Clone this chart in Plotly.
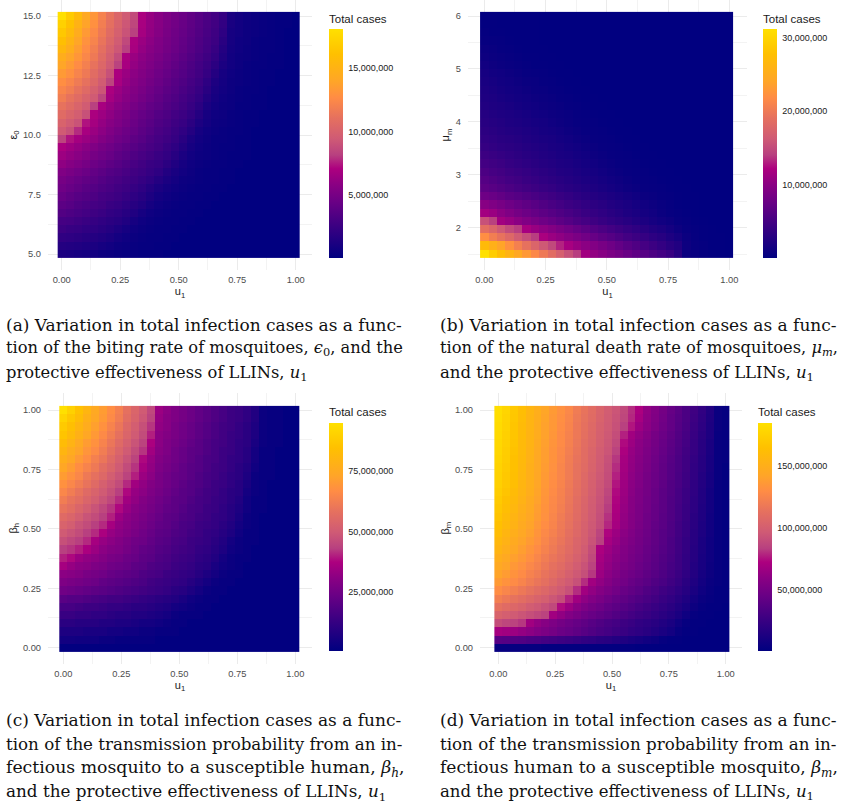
import plotly.graph_objects as go

W, H = 841, 801

# Total cases in millions; rows run top of panel to bottom, columns u1 = 0 .. 1 (30 x 30 cells)
cases_a = [
[18.1,16.8,15.6,14.3,13.2,12.1,11.2,10.3,9.5,8.7,7.0,6.3,5.8,5.3,4.9,4.5,4.1,3.7,3.3,2.9,2.3,1.2,0.9,0.7,0.5,0.4,0.3,0.2,0.2,0.1],
[17.2,16.2,15.0,13.9,12.9,11.9,11.0,10.1,9.3,8.5,6.9,6.2,5.7,5.2,4.8,4.4,4.0,3.6,3.2,2.8,2.2,1.1,0.8,0.6,0.5,0.4,0.3,0.2,0.2,0.1],
[16.6,15.6,14.5,13.4,12.5,11.6,10.7,9.9,9.1,8.2,6.8,6.1,5.6,5.1,4.7,4.3,3.9,3.5,3.1,2.7,2.0,1.0,0.8,0.6,0.5,0.4,0.3,0.2,0.1,0.1],
[16.0,15.1,14.0,13.0,12.2,11.3,10.4,9.6,8.6,7.0,6.4,5.9,5.4,5.0,4.6,4.2,3.8,3.4,3.0,2.6,1.8,1.0,0.7,0.6,0.4,0.3,0.3,0.2,0.1,0.1],
[15.4,14.6,13.6,12.7,11.9,11.0,10.1,9.3,8.2,6.9,6.2,5.7,5.3,4.9,4.5,4.1,3.7,3.3,2.9,2.4,1.6,0.9,0.7,0.5,0.4,0.3,0.3,0.2,0.1,0.1],
[14.6,13.9,13.2,12.4,11.6,10.7,9.8,8.8,7.0,6.4,5.9,5.5,5.1,4.7,4.3,3.9,3.5,3.1,2.7,2.2,1.4,0.8,0.6,0.5,0.4,0.3,0.2,0.2,0.1,0.1],
[14.0,13.4,12.7,12.0,11.2,10.4,9.5,8.3,6.9,6.2,5.7,5.3,4.9,4.5,4.1,3.7,3.3,2.9,2.5,1.9,1.2,0.8,0.6,0.4,0.3,0.3,0.2,0.2,0.1,0.1],
[13.4,12.9,12.2,11.6,10.8,10.0,9.0,7.0,6.4,5.9,5.5,5.1,4.7,4.3,3.9,3.6,3.2,2.8,2.3,1.6,1.0,0.7,0.5,0.4,0.3,0.2,0.2,0.1,0.1,0.1],
[12.8,12.3,11.7,11.1,10.4,9.6,8.4,6.9,6.2,5.7,5.3,4.9,4.5,4.1,3.7,3.4,3.0,2.6,2.0,1.3,0.9,0.6,0.5,0.4,0.3,0.2,0.2,0.1,0.1,0.1],
[12.3,11.8,11.2,10.6,9.9,9.2,7.0,6.4,5.9,5.5,5.1,4.7,4.3,3.9,3.6,3.2,2.8,2.4,1.8,1.1,0.8,0.6,0.4,0.3,0.3,0.2,0.1,0.1,0.1,0.1],
[11.8,11.2,10.7,10.1,9.5,8.4,6.8,6.2,5.7,5.3,4.9,4.5,4.1,3.7,3.4,3.0,2.6,2.2,1.5,1.0,0.7,0.5,0.4,0.3,0.2,0.2,0.1,0.1,0.1,0.1],
[11.2,10.7,10.2,9.6,8.2,6.9,6.3,5.8,5.4,5.0,4.6,4.2,3.9,3.5,3.2,2.8,2.4,1.9,1.2,0.8,0.6,0.5,0.3,0.3,0.2,0.2,0.1,0.1,0.1,0.1],
[10.7,10.2,9.7,9.0,7.0,6.5,6.0,5.5,5.1,4.7,4.3,4.0,3.6,3.3,2.9,2.6,2.2,1.6,1.0,0.7,0.6,0.4,0.3,0.2,0.2,0.1,0.1,0.1,0.1,0.1],
[10.1,9.6,9.1,7.4,6.8,6.2,5.7,5.3,4.9,4.5,4.1,3.8,3.4,3.1,2.7,2.4,1.9,1.3,0.9,0.6,0.5,0.4,0.3,0.2,0.2,0.1,0.1,0.1,0.1,0.1],
[9.5,9.0,7.8,6.9,6.4,5.9,5.4,5.0,4.6,4.3,3.9,3.6,3.2,2.9,2.5,2.1,1.6,1.0,0.7,0.5,0.4,0.3,0.3,0.2,0.1,0.1,0.1,0.1,0.1,0.1],
[8.4,7.4,6.8,6.4,6.0,5.5,5.1,4.7,4.4,4.0,3.7,3.3,3.0,2.7,2.3,1.8,1.2,0.8,0.6,0.4,0.4,0.3,0.2,0.2,0.1,0.1,0.1,0.1,0.1,0.1],
[7.0,6.6,6.2,5.8,5.4,5.0,4.7,4.3,4.0,3.7,3.4,3.1,2.8,2.4,2.0,1.5,1.0,0.7,0.5,0.4,0.3,0.3,0.2,0.2,0.1,0.1,0.1,0.1,0.1,0.1],
[6.5,6.1,5.8,5.4,5.0,4.7,4.4,4.0,3.7,3.4,3.1,2.8,2.5,2.2,1.7,1.2,0.8,0.6,0.5,0.4,0.3,0.2,0.2,0.2,0.1,0.1,0.1,0.1,0.1,0.1],
[6.0,5.6,5.3,5.0,4.6,4.3,4.0,3.7,3.4,3.1,2.8,2.5,2.3,1.9,1.4,1.0,0.7,0.5,0.4,0.3,0.3,0.2,0.2,0.1,0.1,0.1,0.1,0.1,0.1,0.1],
[5.4,5.1,4.8,4.5,4.2,3.9,3.6,3.4,3.1,2.8,2.6,2.3,2.0,1.5,1.1,0.8,0.6,0.4,0.3,0.3,0.2,0.2,0.1,0.1,0.1,0.1,0.1,0.1,0.1,0.1],
[5.0,4.7,4.4,4.1,3.9,3.6,3.3,3.1,2.8,2.6,2.3,2.0,1.6,1.2,0.9,0.6,0.5,0.4,0.3,0.3,0.2,0.2,0.1,0.1,0.1,0.1,0.1,0.1,0.1,0.1],
[4.7,4.4,4.1,3.8,3.6,3.3,3.1,2.8,2.6,2.3,2.0,1.6,1.2,0.9,0.7,0.5,0.4,0.3,0.3,0.2,0.2,0.1,0.1,0.1,0.1,0.1,0.1,0.1,0.1,0.1],
[4.3,4.0,3.7,3.5,3.3,3.0,2.8,2.6,2.3,2.0,1.7,1.3,0.9,0.7,0.5,0.4,0.3,0.3,0.2,0.2,0.1,0.1,0.1,0.1,0.1,0.1,0.1,0.1,0.1,0.1],
[3.9,3.7,3.4,3.2,3.0,2.8,2.5,2.3,2.0,1.7,1.4,1.0,0.7,0.5,0.4,0.3,0.3,0.2,0.2,0.1,0.1,0.1,0.1,0.1,0.1,0.1,0.1,0.1,0.1,0.1],
[3.5,3.3,3.1,2.9,2.7,2.5,2.2,2.0,1.7,1.4,1.0,0.7,0.5,0.4,0.3,0.3,0.2,0.2,0.1,0.1,0.1,0.1,0.1,0.1,0.1,0.1,0.1,0.1,0.1,0.1],
[3.0,2.9,2.7,2.5,2.3,2.1,1.9,1.7,1.4,1.0,0.7,0.5,0.4,0.3,0.3,0.2,0.2,0.1,0.1,0.1,0.1,0.1,0.1,0.1,0.1,0.1,0.1,0.1,0.1,0.1],
[2.6,2.4,2.3,2.1,2.0,1.8,1.6,1.3,1.0,0.7,0.5,0.4,0.3,0.3,0.2,0.2,0.1,0.1,0.1,0.1,0.1,0.1,0.1,0.1,0.1,0.1,0.1,0.1,0.1,0.1],
[2.1,2.0,1.9,1.7,1.6,1.4,1.2,0.9,0.7,0.5,0.4,0.3,0.3,0.2,0.2,0.1,0.1,0.1,0.1,0.1,0.1,0.1,0.1,0.1,0.1,0.1,0.1,0.1,0.1,0.1],
[1.6,1.5,1.4,1.3,1.2,1.0,0.8,0.6,0.5,0.4,0.3,0.3,0.2,0.2,0.1,0.1,0.1,0.1,0.1,0.1,0.1,0.1,0.1,0.1,0.1,0.1,0.1,0.1,0.1,0.1],
[1.2,1.1,1.0,0.9,0.8,0.6,0.5,0.4,0.3,0.3,0.2,0.2,0.2,0.1,0.1,0.1,0.1,0.1,0.1,0.1,0.1,0.1,0.1,0.1,0.1,0.1,0.1,0.1,0.1,0.05],
]

cases_b = [
[0.3,0.3,0.2,0.2,0.2,0.2,0.2,0.1,0.1,0.1,0.1,0.1,0.1,0.1,0.1,0.1,0.1,0.1,0.1,0.1,0.1,0.1,0.1,0.1,0.1,0.1,0.1,0.1,0.1,0.1],
[0.3,0.3,0.2,0.2,0.2,0.2,0.2,0.1,0.1,0.1,0.1,0.1,0.1,0.1,0.1,0.1,0.1,0.1,0.1,0.1,0.1,0.1,0.1,0.1,0.1,0.1,0.1,0.1,0.1,0.1],
[0.4,0.3,0.3,0.2,0.2,0.2,0.2,0.1,0.1,0.1,0.1,0.1,0.1,0.1,0.1,0.1,0.1,0.1,0.1,0.1,0.1,0.1,0.1,0.1,0.1,0.1,0.1,0.1,0.1,0.1],
[0.6,0.5,0.4,0.3,0.2,0.2,0.2,0.1,0.1,0.1,0.1,0.1,0.1,0.1,0.1,0.1,0.1,0.1,0.1,0.1,0.1,0.1,0.1,0.1,0.1,0.1,0.1,0.1,0.1,0.1],
[0.9,0.7,0.5,0.4,0.3,0.2,0.2,0.2,0.1,0.1,0.1,0.1,0.1,0.1,0.1,0.1,0.1,0.1,0.1,0.1,0.1,0.1,0.1,0.1,0.1,0.1,0.1,0.1,0.1,0.1],
[1.1,0.9,0.7,0.6,0.4,0.3,0.3,0.2,0.2,0.1,0.1,0.1,0.1,0.1,0.1,0.1,0.1,0.1,0.1,0.1,0.1,0.1,0.1,0.1,0.1,0.1,0.1,0.1,0.1,0.1],
[1.4,1.1,0.9,0.7,0.6,0.4,0.3,0.3,0.2,0.2,0.1,0.1,0.1,0.1,0.1,0.1,0.1,0.1,0.1,0.1,0.1,0.1,0.1,0.1,0.1,0.1,0.1,0.1,0.1,0.1],
[1.7,1.4,1.2,1.0,0.8,0.6,0.5,0.4,0.3,0.2,0.2,0.1,0.1,0.1,0.1,0.1,0.1,0.1,0.1,0.1,0.1,0.1,0.1,0.1,0.1,0.1,0.1,0.1,0.1,0.1],
[1.9,1.7,1.4,1.2,1.0,0.8,0.7,0.5,0.4,0.3,0.2,0.2,0.1,0.1,0.1,0.1,0.1,0.1,0.1,0.1,0.1,0.1,0.1,0.1,0.1,0.1,0.1,0.1,0.1,0.1],
[2.1,1.9,1.6,1.4,1.2,1.0,0.8,0.7,0.5,0.4,0.3,0.2,0.2,0.1,0.1,0.1,0.1,0.1,0.1,0.1,0.1,0.1,0.1,0.1,0.1,0.1,0.1,0.1,0.1,0.1],
[2.3,2.1,1.8,1.6,1.4,1.2,1.0,0.9,0.7,0.5,0.4,0.3,0.2,0.2,0.1,0.1,0.1,0.1,0.1,0.1,0.1,0.1,0.1,0.1,0.1,0.1,0.1,0.1,0.1,0.1],
[2.5,2.3,2.1,1.9,1.6,1.4,1.2,1.0,0.9,0.7,0.5,0.4,0.3,0.2,0.2,0.1,0.1,0.1,0.1,0.1,0.1,0.1,0.1,0.1,0.1,0.1,0.1,0.1,0.1,0.1],
[2.8,2.5,2.3,2.1,1.9,1.7,1.4,1.2,1.0,0.9,0.7,0.5,0.4,0.3,0.2,0.2,0.1,0.1,0.1,0.1,0.1,0.1,0.1,0.1,0.1,0.1,0.1,0.1,0.1,0.1],
[3.0,2.8,2.6,2.3,2.1,1.9,1.7,1.5,1.2,1.0,0.8,0.6,0.5,0.4,0.3,0.2,0.2,0.1,0.1,0.1,0.1,0.1,0.1,0.1,0.1,0.1,0.1,0.1,0.1,0.1],
[3.3,3.1,2.8,2.6,2.4,2.2,2.0,1.7,1.5,1.3,1.0,0.8,0.6,0.5,0.4,0.3,0.2,0.2,0.1,0.1,0.1,0.1,0.1,0.1,0.1,0.1,0.1,0.1,0.1,0.1],
[3.6,3.4,3.1,2.9,2.7,2.4,2.2,2.0,1.8,1.5,1.3,1.0,0.8,0.6,0.5,0.4,0.3,0.2,0.2,0.1,0.1,0.1,0.1,0.1,0.1,0.1,0.1,0.1,0.1,0.1],
[4.0,3.7,3.4,3.2,3.0,2.7,2.5,2.3,2.0,1.8,1.5,1.3,1.0,0.8,0.6,0.5,0.4,0.3,0.2,0.2,0.1,0.1,0.1,0.1,0.1,0.1,0.1,0.1,0.1,0.1],
[4.5,4.2,3.9,3.6,3.3,3.0,2.8,2.5,2.3,2.0,1.8,1.5,1.3,1.0,0.8,0.6,0.5,0.4,0.3,0.2,0.2,0.1,0.1,0.1,0.1,0.1,0.1,0.1,0.1,0.1],
[5.0,4.7,4.4,4.0,3.7,3.4,3.1,2.8,2.6,2.3,2.1,1.8,1.5,1.3,1.0,0.8,0.6,0.5,0.4,0.3,0.2,0.2,0.1,0.1,0.1,0.1,0.1,0.1,0.1,0.1],
[5.6,5.2,4.9,4.5,4.2,3.9,3.5,3.2,2.9,2.6,2.4,2.1,1.8,1.6,1.3,1.0,0.8,0.6,0.5,0.4,0.3,0.2,0.2,0.1,0.1,0.1,0.1,0.1,0.1,0.1],
[6.2,5.8,5.4,5.0,4.7,4.3,4.0,3.6,3.3,3.0,2.7,2.4,2.1,1.9,1.6,1.3,1.1,0.8,0.6,0.5,0.4,0.3,0.2,0.2,0.1,0.1,0.1,0.1,0.1,0.1],
[6.8,6.4,6.0,5.6,5.2,4.8,4.5,4.1,3.8,3.4,3.1,2.8,2.5,2.2,1.9,1.6,1.3,1.0,0.8,0.6,0.5,0.4,0.3,0.2,0.2,0.1,0.1,0.1,0.1,0.1],
[8.0,7.6,7.1,6.6,6.2,5.8,5.4,5.0,4.6,4.2,3.8,3.4,3.0,2.7,2.4,2.1,1.8,1.5,1.2,0.9,0.7,0.5,0.4,0.3,0.2,0.2,0.1,0.1,0.1,0.1],
[9.8,9.2,8.6,8.0,7.4,6.9,6.4,5.9,5.4,5.0,4.5,4.1,3.7,3.3,3.0,2.6,2.3,2.0,1.6,1.3,1.0,0.7,0.5,0.3,0.2,0.2,0.1,0.1,0.1,0.1],
[11.6,11.0,10.0,9.2,8.5,7.9,7.3,6.8,6.3,5.8,5.3,4.8,4.3,3.9,3.5,3.1,2.7,2.3,2.0,1.6,1.3,0.9,0.6,0.4,0.3,0.2,0.1,0.1,0.1,0.1],
[15.5,14.2,11.5,10.8,10.0,9.3,8.6,8.0,7.4,6.8,6.2,5.6,5.1,4.6,4.1,3.7,3.3,2.9,2.5,2.1,1.7,1.3,1.0,0.6,0.4,0.3,0.2,0.1,0.1,0.1],
[18.8,17.8,16.3,15.0,14.0,11.8,10.9,10.2,9.5,8.8,8.1,7.4,6.7,6.1,5.5,5.0,4.5,4.0,3.5,3.0,2.5,2.1,1.6,1.0,0.6,0.4,0.3,0.2,0.1,0.1],
[22.0,20.5,19.3,18.0,16.5,15.3,14.0,12.0,11.0,10.3,9.6,8.9,8.2,7.5,6.8,6.2,5.6,5.0,4.5,4.0,3.4,2.9,2.3,1.7,0.9,0.5,0.3,0.2,0.2,0.1],
[27.0,25.5,24.0,22.3,20.7,19.2,17.7,16.2,14.8,13.2,11.8,10.9,10.1,9.4,8.7,8.0,7.2,6.4,5.8,5.1,4.5,3.8,3.1,2.5,1.0,0.6,0.4,0.2,0.2,0.1],
[31.2,29.2,27.5,26.0,24.5,23.0,21.5,20.0,18.5,17.0,15.5,14.0,11.5,10.5,9.8,9.0,8.4,7.7,7.0,6.3,5.6,5.0,4.3,3.0,0.9,0.7,0.4,0.3,0.2,0.1],
]

cases_c = [
[95,90,85,80,75,71,67,63,58,54,50,45,34,31,28,26,24,22,20,18,16,14,13,11,8,3,2,2,1,1],
[91,87,83,78,74,70,66,62,57,53,49,44,33,30,28,26,24,22,20,18,16,14,13,11,8,3,2,2,1,1],
[88,84,80,76,72,68,64,60,55,51,47,42,32,30,27,25,23,21,19,17,15,14,12,10,7,3,2,2,1,1],
[86,82,78,74,70,66,62,58,54,50,46,40,31,29,27,25,23,21,19,17,15,13,12,10,7,3,2,2,1,1],
[83,79,75,71,68,64,60,56,52,48,44,37,31,28,26,24,22,20,18,16,15,13,11,10,6,3,2,2,1,1],
[80,76,73,69,66,62,58,54,50,46,42,35,30,28,25,23,21,20,18,16,14,13,11,9,5,2,2,1,1,1],
[77,74,70,67,63,60,56,52,48,44,38,33,29,27,25,23,21,19,17,16,14,12,11,9,5,2,2,1,1,1],
[74,71,67,64,61,57,54,50,46,42,36,32,28,26,24,22,20,19,17,15,14,12,10,8,4,2,2,1,1,1],
[71,68,65,61,58,55,51,48,44,40,34,31,27,25,23,22,20,18,16,15,13,11,10,7,3,2,2,1,1,1],
[68,65,62,59,56,52,49,46,41,35,32,29,27,25,23,21,19,18,16,14,13,11,9,6,3,2,1,1,1,1],
[65,62,59,56,53,50,47,43,38,33,31,28,26,24,22,20,19,17,15,14,12,10,9,5,3,2,1,1,1,1],
[62,59,57,54,51,48,45,41,35,32,29,27,25,23,21,20,18,16,15,13,12,10,8,4,2,2,1,1,1,1],
[59,57,54,51,48,45,42,38,33,30,28,26,24,22,21,19,17,16,14,13,11,9,7,4,2,2,1,1,1,1],
[56,54,51,48,46,43,40,34,31,29,27,25,23,21,20,18,17,15,14,12,11,9,6,3,2,1,1,1,1,1],
[53,51,48,46,43,41,36,32,30,28,26,24,22,21,19,17,16,14,13,12,10,8,5,3,2,1,1,1,1,1],
[50,48,46,43,41,37,33,31,29,27,25,23,21,20,18,17,15,14,12,11,9,7,4,2,2,1,1,1,1,1],
[47,45,43,41,36,33,31,29,27,25,24,22,20,19,17,16,14,13,12,10,8,5,3,2,2,1,1,1,1,1],
[43,42,40,37,34,31,29,28,26,24,22,21,19,18,16,15,14,12,11,9,7,4,3,2,1,1,1,1,1,1],
[40,38,34,32,31,29,27,26,24,23,21,20,18,17,15,14,13,11,10,8,5,3,2,2,1,1,1,1,1,1],
[36,33,31,30,28,27,25,24,23,21,20,18,17,16,14,13,12,10,9,6,4,3,2,1,1,1,1,1,1,1],
[31,30,29,27,26,25,23,22,21,20,18,17,16,14,13,12,11,9,7,5,3,2,2,1,1,1,1,1,1,1],
[28,27,26,25,24,22,21,20,19,18,17,15,14,13,12,11,9,7,5,3,2,2,1,1,1,1,1,1,1,1],
[25,24,23,22,21,20,19,18,17,16,15,14,13,12,10,9,7,5,3,2,2,1,1,1,1,1,1,1,1,1],
[20,19,19,18,17,16,15,15,14,13,12,11,10,9,8,6,4,3,2,2,1,1,1,1,1,1,1,1,1,1],
[16,16,15,14,14,13,12,12,11,10,10,9,8,7,5,4,3,2,2,1,1,1,1,1,1,1,1,1,1,1],
[13,13,12,12,11,11,10,9,9,8,8,7,6,5,3,2,2,2,1,1,1,1,1,1,1,1,1,1,1,1],
[10,10,9,9,9,8,8,7,7,6,5,5,4,3,2,2,1,1,1,1,1,1,1,1,1,1,1,1,1,1],
[7,7,7,6,6,6,5,5,4,4,3,3,2,2,2,1,1,1,1,1,1,1,1,1,1,1,1,1,1,1],
[4.5,4.5,4,4,4,3,3,2,2,2,2,2,1,1,1,1,1,1,1,1,1,1,1,1,1,1,1,1,1,1],
[1,1,1,1,1,1,1,1,1,1,1,1,1,1,1,1,1,1,1,1,1,1,1,1,1,1,1,1,1,1],
]

cases_d = [
[184,178,170,163,156,150,143,137,132,127,120,115,110,104,99,94,88,80,72,62,56,50,44,39,33,28,22,15,5,3],
[183,177,169,162,155,149,142,136,131,126,119,114,109,103,98,93,87,79,70,61,55,49,43,38,33,27,21,14,5,3],
[182,176,168,161,155,148,141,136,130,125,118,113,108,102,97,92,84,76,66,60,54,48,43,37,32,26,20,13,5,3],
[181,175,168,161,154,148,141,135,129,124,118,112,107,101,96,90,78,68,62,57,51,46,41,36,31,25,19,13,4,3],
[180,174,167,160,154,147,140,134,129,123,117,111,106,100,95,88,74,66,60,55,50,45,40,35,30,24,18,12,4,3],
[179,173,166,160,153,146,139,133,128,122,116,110,105,99,94,85,72,64,59,54,49,44,39,34,29,24,18,12,4,3],
[178,172,165,159,152,145,139,133,127,121,115,110,104,98,92,82,70,63,58,53,48,43,38,33,28,23,17,11,4,3],
[177,171,165,158,151,145,138,132,126,120,114,109,103,97,91,80,69,62,57,52,47,42,37,33,28,22,17,11,4,2],
[176,170,164,157,151,144,137,131,126,120,114,108,102,96,90,78,68,61,56,51,46,42,37,32,27,22,16,10,4,2],
[175,169,163,156,150,143,136,130,125,119,113,107,101,95,89,76,67,60,55,50,46,41,36,32,27,21,16,10,3,2],
[173,167,161,155,149,142,135,129,124,118,112,106,100,94,87,74,66,59,54,50,45,40,36,31,26,21,15,9,3,2],
[171,165,159,153,147,141,134,128,123,117,111,105,99,93,85,73,65,58,54,49,45,40,35,31,26,20,15,9,3,2],
[169,163,157,151,146,139,133,127,122,116,110,104,98,92,83,72,64,58,53,49,44,40,35,30,25,20,14,9,3,2],
[167,161,155,149,144,138,132,126,120,115,109,103,97,91,81,71,63,57,53,48,44,39,35,30,25,19,14,8,3,2],
[165,159,153,147,142,136,130,125,119,114,108,102,96,90,79,70,62,57,52,48,43,39,34,29,24,19,13,8,3,2],
[162,156,150,145,140,134,128,123,118,112,107,101,95,86,73,66,60,55,51,47,42,38,34,29,24,18,13,8,3,2],
[158,153,147,142,137,132,126,121,116,111,105,100,93,84,70,64,58,54,50,46,42,38,33,28,23,18,12,7,3,2],
[155,150,144,139,134,129,124,119,114,109,104,98,90,72,66,61,56,52,49,45,41,37,33,28,23,17,12,7,3,2],
[150,146,140,136,131,126,121,116,112,107,102,96,88,70,64,59,55,51,48,44,40,36,32,27,22,17,11,7,3,2],
[146,142,136,132,127,123,118,113,109,104,99,93,85,68,62,57,53,50,46,43,39,35,31,27,22,16,11,6,3,2],
[142,138,133,129,124,120,115,111,106,101,96,91,82,66,60,55,51,48,45,41,38,34,30,26,21,16,10,6,3,2],
[137,133,129,125,120,116,112,107,102,97,92,80,68,62,57,52,49,45,42,39,35,32,28,24,19,14,9,5,3,2],
[130,126,122,118,114,110,106,102,97,92,80,68,62,57,53,49,45,42,39,35,32,28,25,21,17,12,7,4,2,2],
[122,118,114,111,107,103,100,95,90,78,68,61,56,52,48,44,41,38,35,32,29,25,22,18,14,9,5,3,2,2],
[113,109,106,103,99,96,92,88,74,66,59,54,50,47,43,40,37,34,31,28,25,22,19,15,11,6,3,2,2,1],
[103,100,97,94,91,88,85,68,62,56,52,48,45,42,39,36,33,30,27,25,22,19,16,12,7,3,2,2,1,1],
[90,87,85,82,68,62,58,54,50,47,44,41,38,35,32,30,27,25,22,20,18,15,12,7,3,2,2,1,1,1],
[70,68,66,63,60,56,53,50,46,44,41,38,35,32,30,27,25,22,20,18,15,12,9,4,2,2,1,1,1,1],
[38,37,36,35,33,32,30,29,27,26,24,22,21,19,18,16,14,12,10,8,6,3,2,2,1,1,1,1,1,1],
[3,3,3,3,3,3,2,2,2,2,2,2,2,2,2,2,2,2,1,1,1,1,1,1,1,1,1,1,1,1],
]

u1_ticks = [0, 0.25, 0.5, 0.75, 1]
u1_labels = ["0.00", "0.25", "0.50", "0.75", "1.00"]
eps_ticks = [5, 7.5, 10, 12.5, 15]
eps_labels = ["5.0", "7.5", "10.0", "12.5", "15.0"]
mu_ticks = [2, 3, 4, 5, 6]
mu_labels = ["2", "3", "4", "5", "6"]
beta_ticks = [0, 0.25, 0.5, 0.75, 1]
beta_labels = ["0.00", "0.25", "0.50", "0.75", "1.00"]

colorbar_ticks_a = [5, 10, 15]
colorbar_ticks_b = [10, 20, 30]
colorbar_ticks_c = [25, 50, 75]
colorbar_ticks_d = [50, 100, 150]

colours = [
    [0.00, "#000080"], [0.14, "#3b0082"], [0.245, "#6a0085"], [0.32, "#8a0083"],
    [0.39, "#ad007f"], [0.45, "#b84080"], [0.52, "#cf5a75"], [0.61, "#e5705f"],
    [0.70, "#ff8c45"], [0.77, "#ffa528"], [0.89, "#ffc000"], [1.00, "#ffe000"],
]

panels = [
    dict(z=cases_a, y0=5, ymax=15, zr=(0.05, 18.1), cb=colorbar_ticks_a, yt=eps_ticks, yl=eps_labels,
         yminor=1.25, ytitle="\u03b5<sub>0</sub>", dom=(48, 312, 0, 270), xa=(61.7, 295.7), ya=((5, 254), (15, 16)),
         cbx=329, cby=(29, 258), ttl=19),
    dict(z=cases_b, y0=1.5, ymax=6, zr=(0.05, 31.2), cb=colorbar_ticks_b, yt=mu_ticks, yl=mu_labels,
         yminor=0.5, ytitle="\u03bc<sub>m</sub>", dom=(468, 747, 0, 270), xa=(484.3, 729.3), ya=((2, 227.7), (6, 16)),
         cbx=763, cby=(29, 258), ttl=19),
    dict(z=cases_c, y0=0, ymax=1, zr=(0.5, 95), cb=colorbar_ticks_c, yt=beta_ticks, yl=beta_labels,
         yminor=0.125, ytitle="\u03b2<sub>h</sub>", dom=(48, 312, 393, 663.5), xa=(63.3, 295.3), ya=((0, 647.7), (1, 410)),
         cbx=329, cby=(423, 651), ttl=412),
    dict(z=cases_d, y0=0, ymax=1, zr=(0.5, 185), cb=colorbar_ticks_d, yt=beta_ticks, yl=beta_labels,
         yminor=0.125, ytitle="\u03b2<sub>m</sub>", dom=(480, 742, 393, 663.5), xa=(498.3, 725.7), ya=((0, 647.7), (1, 410)),
         cbx=758, cby=(423, 651), ttl=412),
]

captions = [
    (6, 325, 17.0, "(a) Variation in total infection cases as a func-"),
    (6, 349, 16.3, "tion of the biting rate of mosquitoes, <i>\u03f5</i><sub>0</sub>, and the"),
    (6, 373, 16.3, "protective effectiveness of LLINs, <i>u</i><sub>1</sub>"),
    (440, 325, 17.0, "(b) Variation in total infection cases as a func-"),
    (440, 349, 16.3, "tion of the natural death rate of mosquitoes, <i>\u03bc<sub>m</sub></i>,"),
    (440, 373, 16.5, "and the protective effectiveness of LLINs, <i>u</i><sub>1</sub>"),
    (6, 720, 17.0, "(c) Variation in total infection cases as a func-"),
    (6, 744, 16.7, "tion of the transmission probability from an in-"),
    (6, 768, 17.3, "fectious mosquito to a susceptible human, <i>\u03b2<sub>h</sub></i>,"),
    (6, 792, 16.8, "and the protective effectiveness of LLINs, <i>u</i><sub>1</sub>"),
    (440, 720, 17.0, "(d) Variation in total infection cases as a func-"),
    (440, 744, 16.7, "tion of the transmission probability from an in-"),
    (440, 768, 17.1, "fectious human to a susceptible mosquito, <i>\u03b2<sub>m</sub></i>,"),
    (440, 792, 16.5, "and the protective effectiveness of LLINs, <i>u</i><sub>1</sub>"),
]

SANS = "Liberation Sans"
SERIF = "DejaVu Serif"
GRID = "#ebebeb"
GRID_MINOR = "#f3f3f3"

fig = go.Figure()
layout = dict(
    width=W, height=H, margin=dict(l=0, r=0, t=0, b=0), paper_bgcolor="white", plot_bgcolor="white",
    showlegend=False, font=dict(family=SANS),
)
annotations = []

for i, p in enumerate(panels):
    n = "" if i == 0 else str(i + 1)
    left, right, top, bottom = p["dom"]
    x_px0, x_px1 = p["xa"]
    per_x = x_px1 - x_px0
    (v0, py0), (v1, py1) = p["ya"]
    per_y = (py0 - py1) / (v1 - v0)
    x_range = [(left - x_px0) / per_x, (right - x_px0) / per_x]
    y_range = [v0 - (bottom - py0) / per_y, v1 + (py1 - top) / per_y]
    rows = p["z"][::-1]
    fig.add_trace(go.Heatmap(
        z=[[v * 1e6 for v in r] for r in rows],
        x0=0, dx=1 / 29, y0=p["y0"], dy=(p["ymax"] - p["y0"]) / 29,
        xaxis="x" + n, yaxis="y" + n,
        colorscale=colours, zmin=p["zr"][0] * 1e6, zmax=p["zr"][1] * 1e6,
        colorbar=dict(
            x=p["cbx"] / W, xanchor="left", xpad=0, ypad=0,
            y=1 - p["cby"][0] / H, yanchor="top", len=(p["cby"][1] - p["cby"][0]) / H, lenmode="fraction",
            thickness=14, thicknessmode="pixels", outlinewidth=0,
            tickvals=[t * 1e6 for t in p["cb"]], tickformat=",d",
            ticks="outside", ticklen=4, tickcolor="white", tickwidth=1,
            tickfont=dict(family=SANS, size=9, color="#1a1a1a"),
        ),
    ))
    layout["xaxis" + n] = dict(
        domain=[left / W, right / W], anchor="y" + n, range=x_range,
        tickvals=u1_ticks, ticktext=u1_labels, tickfont=dict(family=SANS, size=9.3, color="#4d4d4d"),
        ticklabelstandoff=3,
        showgrid=True, gridcolor=GRID, gridwidth=1, zeroline=False, showline=False, ticks="",
        minor=dict(dtick=0.125, tick0=0, showgrid=True, gridcolor=GRID_MINOR, gridwidth=1),
        title=dict(text="u<sub>1</sub>", font=dict(family=SANS, size=11, color="#1a1a1a"), standoff=3),
    )
    layout["yaxis" + n] = dict(
        domain=[1 - bottom / H, 1 - top / H], anchor="x" + n, range=y_range,
        tickvals=p["yt"], ticktext=p["yl"], tickfont=dict(family=SANS, size=9.3, color="#4d4d4d"),
        ticklabelstandoff=6,
        showgrid=True, gridcolor=GRID, gridwidth=1, zeroline=False, showline=False, ticks="",
        minor=dict(dtick=p["yminor"], tick0=p["yt"][0], showgrid=True, gridcolor=GRID_MINOR, gridwidth=1),
        title=dict(text=p["ytitle"], font=dict(family=SANS, size=11, color="#1a1a1a"), standoff=3),
    )
    annotations.append(dict(
        text="Total cases", xref="paper", yref="paper", x=(p["cbx"] - 2) / W, y=1 - p["ttl"] / H,
        xanchor="left", yanchor="middle", showarrow=False, font=dict(family=SANS, size=11.5, color="#1a1a1a"),
    ))

for cx, cy, size, text in captions:
    annotations.append(dict(
        text=text, xref="paper", yref="paper", x=(cx - 2) / W, y=1 - cy / H, xanchor="left", yanchor="middle",
        showarrow=False, align="left", font=dict(family=SERIF, size=size, color="#111111"),
    ))

fig.update_layout(**layout, annotations=annotations)
fig.write_html("out.html", config=dict(displayModeBar=False), post_script="document.body.style.margin='0';")
